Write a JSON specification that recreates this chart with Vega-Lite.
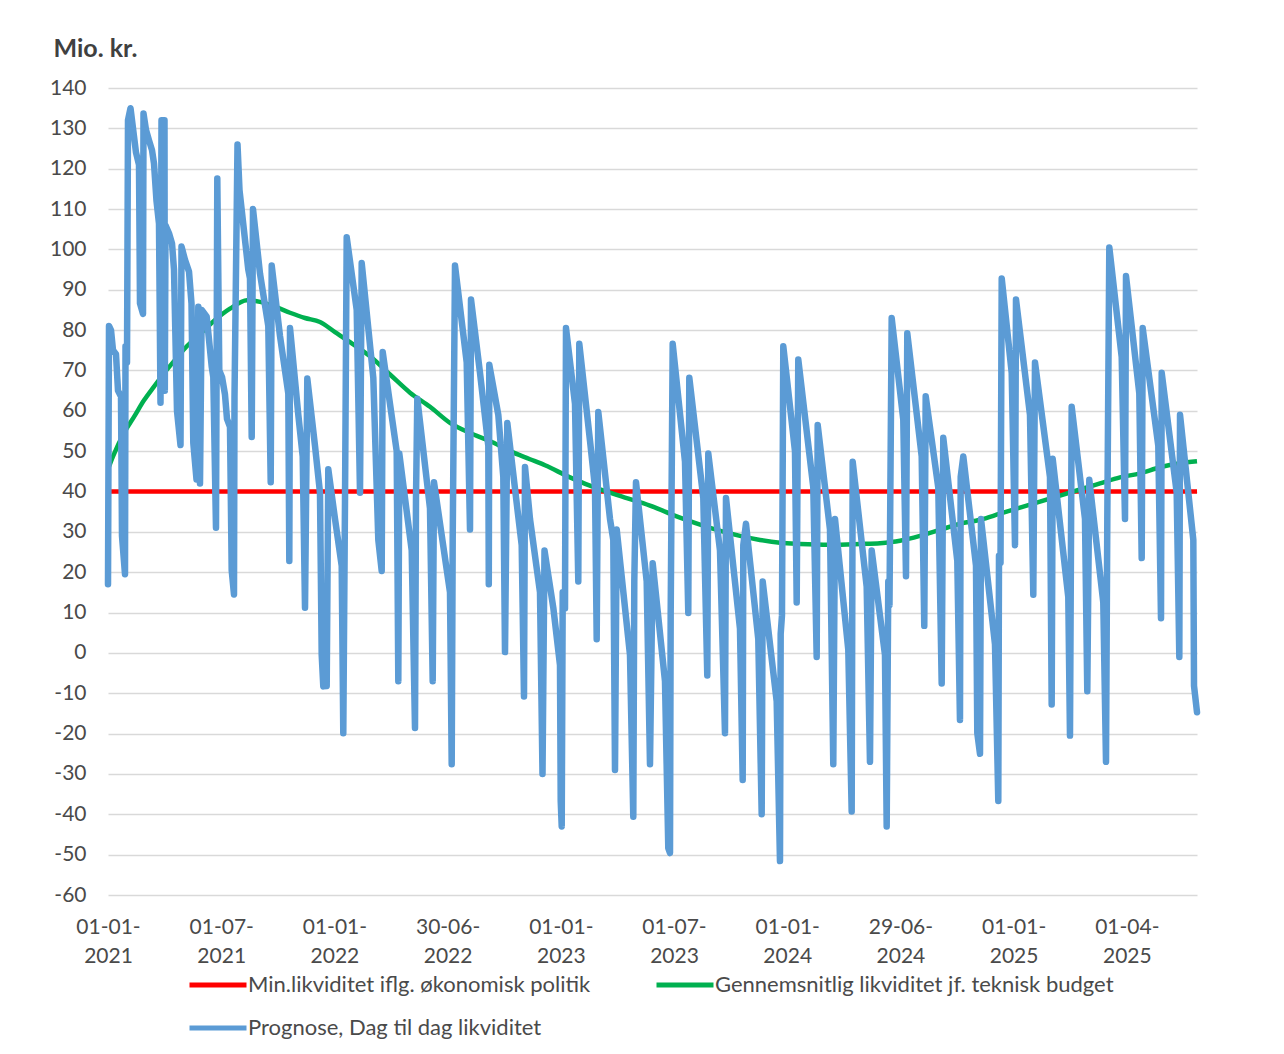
{
  "$schema": "https://vega.github.io/schema/vega-lite/v6.json",
  "width": 1089,
  "height": 807,
  "autosize": {"type": "none"},
  "padding": {"left": 108, "top": 88, "right": 87, "bottom": 159},
  "background": "white",
  "config": {
    "view": {"stroke": null},
    "font": "Lato",
    "axis": {
      "domain": false,
      "ticks": false,
      "gridColor": "#D9D9D9",
      "gridWidth": 1.3,
      "labelFont": "Lato",
      "labelFontSize": 21,
      "labelColor": "#4A4A4A"
    },
    "legend": {
      "orient": "none",
      "legendX": 79,
      "legendY": 866,
      "direction": "horizontal",
      "columns": 2,
      "symbolType": "stroke",
      "symbolSize": 3249,
      "symbolStrokeWidth": 5,
      "labelFont": "Lato",
      "labelFontSize": 22,
      "labelColor": "#4A4A4A",
      "labelLimit": 0,
      "labelOffset": -1,
      "columnPadding": 55,
      "rowPadding": 1,
      "padding": 0,
      "title": null
    }
  },
  "datasets": {
    "red": [{"m": 0, "v": 40}, {"m": 57.72, "v": 40}],
    "green": [
      {"m":0,"v":45.5},{"m":0.265,"v":48.7},{"m":0.848,"v":54.5},{"m":1.378,"v":58.5},{"m":1.908,"v":62.6},{"m":2.438,"v":66},{"m":2.968,"v":69.3},{"m":3.551,"v":72.6},{"m":4.081,"v":75.5},{"m":4.876,"v":79},{"m":5.671,"v":82.5},{"m":6.466,"v":85.3},{"m":7.367,"v":87.4},{"m":8.056,"v":87},{"m":8.851,"v":85.8},{"m":9.647,"v":84.3},{"m":10.442,"v":83},{"m":11.236,"v":82},{"m":12.032,"v":79.5},{"m":12.827,"v":77},{"m":13.887,"v":73.5},{"m":14.947,"v":69},{"m":16.007,"v":64.5},{"m":17.067,"v":61},{"m":18.127,"v":57},{"m":19.187,"v":54.5},{"m":20.247,"v":52.5},{"m":21.307,"v":50},{"m":22.367,"v":48},{"m":23.162,"v":46.5},{"m":24.487,"v":43.5},{"m":26.077,"v":40.5},{"m":27.402,"v":38.5},{"m":28.727,"v":36.5},{"m":30.317,"v":33.5},{"m":31.907,"v":31},{"m":33.497,"v":29},{"m":34.558,"v":28},{"m":35.618,"v":27.3},{"m":36.678,"v":27},{"m":38.268,"v":26.8},{"m":39.858,"v":27},{"m":40.918,"v":27.2},{"m":41.978,"v":27.8},{"m":43.038,"v":29},{"m":44.098,"v":30.5},{"m":45.158,"v":32},{"m":46.218,"v":33},{"m":47.278,"v":34.5},{"m":48.338,"v":36},{"m":49.398,"v":37.5},{"m":50.458,"v":39},{"m":51.518,"v":40.5},{"m":52.578,"v":42},{"m":53.638,"v":43.5},{"m":54.698,"v":44.5},{"m":55.758,"v":46},{"m":56.818,"v":47},{"m":57.72,"v":47.5}
    ],
    "blue": [
      {"m":0,"v":17},{"m":0.053,"v":81},{"m":0.159,"v":80},{"m":0.265,"v":75},{"m":0.424,"v":74},{"m":0.53,"v":65},{"m":0.689,"v":63.5},{"m":0.742,"v":29},{"m":0.901,"v":19.5},{"m":0.928,"v":76},{"m":1.007,"v":72},{"m":1.06,"v":132},{"m":1.193,"v":135},{"m":1.378,"v":128},{"m":1.484,"v":124},{"m":1.643,"v":121},{"m":1.696,"v":86.6},{"m":1.855,"v":84},{"m":1.882,"v":133.7},{"m":2.014,"v":129.6},{"m":2.173,"v":127},{"m":2.332,"v":124.6},{"m":2.438,"v":121.3},{"m":2.571,"v":112},{"m":2.703,"v":106.4},{"m":2.783,"v":62},{"m":2.836,"v":132},{"m":2.995,"v":132},{"m":3.011,"v":65},{"m":3.048,"v":106},{"m":3.233,"v":104},{"m":3.392,"v":101.5},{"m":3.498,"v":95},{"m":3.657,"v":60},{"m":3.843,"v":51.5},{"m":3.896,"v":100.7},{"m":4.081,"v":97.4},{"m":4.293,"v":94.5},{"m":4.426,"v":86.6},{"m":4.521,"v":52},{"m":4.691,"v":43},{"m":4.786,"v":85.8},{"m":4.876,"v":42},{"m":4.966,"v":85},{"m":5.231,"v":83.3},{"m":5.496,"v":71},{"m":5.581,"v":68.4},{"m":5.724,"v":31},{"m":5.793,"v":117.6},{"m":5.899,"v":70},{"m":6.042,"v":68.4},{"m":6.201,"v":64},{"m":6.307,"v":58},{"m":6.466,"v":56},{"m":6.556,"v":20.5},{"m":6.678,"v":14.5},{"m":6.705,"v":63.5},{"m":6.864,"v":126},{"m":6.97,"v":114.7},{"m":7.436,"v":95},{"m":7.526,"v":92.8},{"m":7.617,"v":53.5},{"m":7.685,"v":110},{"m":8.056,"v":94},{"m":8.496,"v":81},{"m":8.624,"v":42.3},{"m":8.677,"v":96},{"m":9.117,"v":78.5},{"m":9.557,"v":64.3},{"m":9.61,"v":22.8},{"m":9.647,"v":80.5},{"m":10.087,"v":59},{"m":10.32,"v":48.7},{"m":10.442,"v":11.2},{"m":10.564,"v":68},{"m":10.972,"v":51.3},{"m":11.236,"v":39.7},{"m":11.327,"v":-0.5},{"m":11.411,"v":-8.3},{"m":11.592,"v":-8.2},{"m":11.676,"v":45.5},{"m":12.032,"v":33.2},{"m":12.387,"v":21.6},{"m":12.471,"v":-19.9},{"m":12.561,"v":37.1},{"m":12.652,"v":103},{"m":13.182,"v":85},{"m":13.357,"v":39.7},{"m":13.447,"v":96.6},{"m":14.062,"v":68.2},{"m":14.327,"v":28},{"m":14.507,"v":20.3},{"m":14.56,"v":74.6},{"m":14.947,"v":61.7},{"m":15.302,"v":50},{"m":15.387,"v":-7},{"m":15.44,"v":49.4},{"m":16.097,"v":25.4},{"m":16.272,"v":-18.6},{"m":16.325,"v":38.4},{"m":16.394,"v":63},{"m":17.067,"v":35.8},{"m":17.21,"v":-7},{"m":17.279,"v":42.3},{"m":18.127,"v":15},{"m":18.217,"v":-27.6},{"m":18.27,"v":28},{"m":18.392,"v":96},{"m":19.012,"v":72},{"m":19.187,"v":30.6},{"m":19.24,"v":87.6},{"m":19.717,"v":69.4},{"m":20.157,"v":51.3},{"m":20.183,"v":17},{"m":20.21,"v":71.4},{"m":20.687,"v":59},{"m":20.952,"v":43.6},{"m":21.042,"v":0.2},{"m":21.164,"v":57},{"m":21.662,"v":37.1},{"m":21.927,"v":26.7},{"m":22.049,"v":-10.8},{"m":22.102,"v":46.1},{"m":22.367,"v":33.2},{"m":22.897,"v":15},{"m":23.03,"v":-30},{"m":23.136,"v":25.4},{"m":23.602,"v":11.2},{"m":23.957,"v":-3},{"m":23.995,"v":-36.7},{"m":24.048,"v":-43},{"m":24.101,"v":15},{"m":24.222,"v":11},{"m":24.275,"v":80.5},{"m":24.752,"v":61.7},{"m":24.927,"v":17.7},{"m":24.98,"v":76.6},{"m":25.547,"v":52.6},{"m":25.812,"v":41},{"m":25.902,"v":3.4},{"m":25.987,"v":59.7},{"m":26.607,"v":33.2},{"m":26.782,"v":28},{"m":26.872,"v":-29},{"m":26.962,"v":30.6},{"m":27.667,"v":-0.5},{"m":27.842,"v":-40.6},{"m":27.895,"v":17.7},{"m":27.985,"v":42.3},{"m":28.552,"v":17.7},{"m":28.727,"v":-27.6},{"m":28.87,"v":22.2},{"m":29.522,"v":-7},{"m":29.697,"v":-48.4},{"m":29.787,"v":-49.6},{"m":29.824,"v":9.9},{"m":29.93,"v":76.6},{"m":30.582,"v":47.4},{"m":30.757,"v":9.9},{"m":30.81,"v":68.2},{"m":31.552,"v":38.4},{"m":31.764,"v":-5.6},{"m":31.817,"v":49.4},{"m":32.437,"v":25.4},{"m":32.702,"v":-19.9},{"m":32.755,"v":38.4},{"m":33.497,"v":6},{"m":33.64,"v":-31.5},{"m":33.672,"v":26.7},{"m":33.815,"v":32},{"m":34.467,"v":3.4},{"m":34.647,"v":-40},{"m":34.7,"v":17.7},{"m":35.442,"v":-12},{"m":35.617,"v":-51.6},{"m":35.654,"v":4.7},{"m":35.723,"v":9.3},{"m":35.792,"v":76},{"m":36.412,"v":50},{"m":36.502,"v":12.5},{"m":36.587,"v":72.7},{"m":37.382,"v":41},{"m":37.562,"v":-1},{"m":37.615,"v":56.5},{"m":38.267,"v":30.6},{"m":38.442,"v":-27.6},{"m":38.532,"v":33.2},{"m":39.237,"v":0.8},{"m":39.417,"v":-39.3},{"m":39.47,"v":47.4},{"m":40.212,"v":16.4},{"m":40.387,"v":-27},{"m":40.477,"v":25.4},{"m":41.182,"v":-0.5},{"m":41.272,"v":-43},{"m":41.357,"v":17.7},{"m":41.421,"v":11.8},{"m":41.537,"v":83},{"m":42.152,"v":57.8},{"m":42.296,"v":19},{"m":42.364,"v":79.2},{"m":43.128,"v":48.7},{"m":43.265,"v":6.7},{"m":43.34,"v":63.6},{"m":44.007,"v":41},{"m":44.188,"v":-7.6},{"m":44.272,"v":53.3},{"m":45.015,"v":22.8},{"m":45.157,"v":-16.6},{"m":45.195,"v":43.6},{"m":45.333,"v":48.7},{"m":46.006,"v":21.6},{"m":46.075,"v":-19.9},{"m":46.218,"v":-25},{"m":46.271,"v":33.2},{"m":47.013,"v":2.1},{"m":47.188,"v":-36.7},{"m":47.225,"v":24.1},{"m":47.305,"v":22.2},{"m":47.369,"v":92.8},{"m":47.899,"v":69.4},{"m":48.073,"v":26.7},{"m":48.126,"v":87.6},{"m":48.868,"v":59},{"m":49.043,"v":14.4},{"m":49.133,"v":72},{"m":49.928,"v":43.6},{"m":50.018,"v":-12.8},{"m":50.071,"v":48.1},{"m":50.898,"v":13.8},{"m":50.988,"v":-20.5},{"m":51.078,"v":61},{"m":51.783,"v":33.2},{"m":51.905,"v":-9.5},{"m":52.011,"v":42.9},{"m":52.753,"v":12.5},{"m":52.897,"v":-27},{"m":52.966,"v":33.2},{"m":53.072,"v":100.5},{"m":53.729,"v":73.3},{"m":53.904,"v":33.2},{"m":53.957,"v":93.4},{"m":54.662,"v":64.3},{"m":54.789,"v":23.5},{"m":54.842,"v":80.5},{"m":55.669,"v":51.3},{"m":55.812,"v":8.6},{"m":55.849,"v":69.4},{"m":56.644,"v":39.7},{"m":56.783,"v":-1},{"m":56.82,"v":59},{"m":57.525,"v":28},{"m":57.562,"v":-8.2},{"m":57.72,"v":-14.7}
    ]
  },
  "encoding": {
    "x": {
      "field": "m",
      "type": "quantitative",
      "scale": {"domain": [0, 57.72], "nice": false, "zero": false},
      "axis": {
        "title": null,
        "grid": false,
        "values": [0, 6, 12, 18, 24, 30, 36, 42, 48, 54],
        "labelExpr": "[['01-01-','2021'],['01-07-','2021'],['01-01-','2022'],['30-06-','2022'],['01-01-','2023'],['01-07-','2023'],['01-01-','2024'],['29-06-','2024'],['01-01-','2025'],['01-04-','2025']][round(datum.value/6)]",
        "labelLineHeight": 29,
        "labelPadding": 21,
        "labelBaseline": "top",
        "labelFlush": false,
        "labelOverlap": false,
        "labelBound": false
      }
    },
    "y": {
      "field": "v",
      "type": "quantitative",
      "scale": {"domain": [-60, 140], "nice": false, "zero": false},
      "axis": {
        "values": [-60,-50,-40,-30,-20,-10,0,10,20,30,40,50,60,70,80,90,100,110,120,130,140],
        "labelExpr": "datum.value + ''",
        "labelPadding": 22,
        "title": "Mio. kr.",
        "titleAngle": 0,
        "titleAlign": "left",
        "titleBaseline": "alphabetic",
        "titleX": -55,
        "titleY": -32,
        "titleFont": "Lato",
        "titleFontSize": 25,
        "titleFontWeight": "bold",
        "titleColor": "#404040"
      }
    },
    "color": {
      "field": "s",
      "type": "nominal",
      "scale": {
        "domain": ["Min.likviditet iflg. økonomisk politik", "Gennemsnitlig likviditet jf. teknisk budget", "Prognose, Dag til dag likviditet"],
        "range": ["#FF0000", "#00B050", "#5B9BD5"]
      }
    }
  },
  "layer": [
    {
      "data": {"name": "red"},
      "transform": [{"calculate": "'Min.likviditet iflg. økonomisk politik'", "as": "s"}],
      "mark": {"type": "line", "strokeWidth": 4.5}
    },
    {
      "data": {"name": "green"},
      "transform": [{"calculate": "'Gennemsnitlig likviditet jf. teknisk budget'", "as": "s"}],
      "mark": {"type": "line", "strokeWidth": 4.5, "interpolate": "monotone"}
    },
    {
      "data": {"name": "blue"},
      "transform": [{"calculate": "'Prognose, Dag til dag likviditet'", "as": "s"}],
      "mark": {"type": "line", "strokeWidth": 6.5, "strokeCap": "round", "strokeJoin": "round"}
    }
  ]
}
